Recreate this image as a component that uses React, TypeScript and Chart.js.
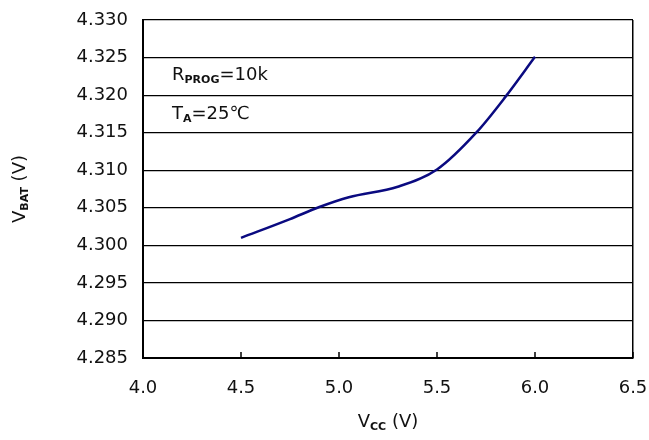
import React, { useEffect, useRef } from "react";
import { Chart, registerables } from "chart.js";

Chart.register(...registerables);

const vccValues = [4.5, 4.75, 4.9, 5.05, 5.3, 5.5, 5.7, 5.85, 6.0];
const vbatValues = [4.301, 4.3035, 4.3051, 4.3064, 4.3078, 4.3101, 4.315, 4.3198, 4.3251];
const xMin = 4.0;
const xMax = 6.5;
const xStep = 0.5;
const yMin = 4.285;
const yMax = 4.33;
const yStep = 0.005;

const FONT = "'DejaVu Sans', sans-serif";

type Seg = { text: string; size: number; bold?: boolean; dy?: number };

function drawRich(ctx: CanvasRenderingContext2D, segs: Seg[], x: number, y: number, align: "left" | "center") {
  let total = 0;
  for (const s of segs) {
    ctx.font = `${s.bold ? "bold " : ""}${s.size}px ${FONT}`;
    total += ctx.measureText(s.text).width;
  }
  let cx = align === "center" ? x - total / 2 : x;
  ctx.textBaseline = "alphabetic";
  ctx.textAlign = "left";
  for (const s of segs) {
    ctx.font = `${s.bold ? "bold " : ""}${s.size}px ${FONT}`;
    ctx.fillText(s.text, cx, y + (s.dy || 0));
    cx += ctx.measureText(s.text).width;
  }
}

const overlayPlugin = {
  id: "overlay",
  afterDraw(chart: any) {
    const ctx: CanvasRenderingContext2D = chart.ctx;
    const area = chart.chartArea;
    const xs = chart.scales.x;
    ctx.save();
    // inward tick marks on x axis
    ctx.strokeStyle = "#000";
    ctx.lineWidth = 1.5;
    xs.ticks.forEach((t: any) => {
      const px = xs.getPixelForValue(t.value);
      ctx.beginPath();
      ctx.moveTo(px, area.bottom);
      ctx.lineTo(px, area.bottom - 6);
      ctx.stroke();
    });
    ctx.fillStyle = "#111";
    // x title
    drawRich(
      ctx,
      [
        { text: "V", size: 18 },
        { text: "CC", size: 11, bold: true, dy: 3 },
        { text: " (V)", size: 18 },
      ],
      (area.left + area.right) / 2,
      area.bottom + 69,
      "center"
    );
    // y title
    ctx.save();
    ctx.translate(25, (area.top + area.bottom) / 2);
    ctx.rotate(-Math.PI / 2);
    drawRich(
      ctx,
      [
        { text: "V", size: 18 },
        { text: "BAT", size: 11, bold: true, dy: 3 },
        { text: " (V)", size: 18 },
      ],
      0,
      0,
      "center"
    );
    ctx.restore();
    // annotations
    drawRich(
      ctx,
      [
        { text: "R", size: 18 },
        { text: "PROG", size: 11, bold: true, dy: 3 },
        { text: "=10k", size: 18 },
      ],
      area.left + 29,
      area.top + 60,
      "left"
    );
    drawRich(
      ctx,
      [
        { text: "T", size: 18 },
        { text: "A", size: 11, bold: true, dy: 3 },
        { text: "=25\u2103", size: 18 },
      ],
      area.left + 29,
      area.top + 99,
      "left"
    );
    ctx.restore();
  },
};

export default function App() {
  const ref = useRef<HTMLCanvasElement | null>(null);
  useEffect(() => {
    document.body.style.margin = "0";
    const canvas = ref.current!;
    const chart = new Chart(canvas, {
      type: "line",
      data: {
        datasets: [
          {
            data: vccValues.map((x, i) => ({ x, y: vbatValues[i] })),
            borderColor: "#0a0a80",
            borderWidth: 2.5,
            pointRadius: 0,
            cubicInterpolationMode: "monotone",
            fill: false,
          },
        ],
      },
      options: {
        animation: false,
        responsive: false,
        devicePixelRatio: 1,
        layout: { padding: { top: 20, right: 16, left: 0, bottom: 0 } },
        plugins: { legend: { display: false }, tooltip: { enabled: false } },
        scales: {
          x: {
            type: "linear",
            min: xMin,
            max: xMax,
            afterFit: (s: any) => {
              s.height = 82;
              s.paddingLeft = 0;
              s.paddingRight = 0;
            },
            ticks: {
              stepSize: xStep,
              color: "#111",
              padding: 20,
              font: { family: FONT, size: 18 },
              callback: (v: any) => Number(v).toFixed(1),
            },
            grid: {
              drawTicks: false,
              lineWidth: 1.5,
              color: (c: any) => (c.tick && c.tick.value === xMax ? "#000" : "rgba(0,0,0,0)"),
            },
            border: { display: true, color: "#000", width: 2 },
          },
          y: {
            type: "linear",
            min: yMin,
            max: yMax,
            afterFit: (s: any) => {
              s.width = 143;
              s.paddingTop = 0;
              s.paddingBottom = 0;
            },
            ticks: {
              stepSize: yStep,
              color: "#111",
              padding: 15,
              font: { family: FONT, size: 18 },
              callback: (v: any) => Number(v).toFixed(3),
            },
            grid: { drawTicks: false, color: "#000", lineWidth: 1.2 },
            border: { display: true, color: "#000", width: 2 },
          },
        },
      },
      plugins: [overlayPlugin],
    } as any);
    return () => chart.destroy();
  }, []);
  return (
    <div style={{ width: 649, height: 440, background: "#fff" }}>
      <canvas ref={ref} width={649} height={440} style={{ display: "block" }} />
    </div>
  );
}
